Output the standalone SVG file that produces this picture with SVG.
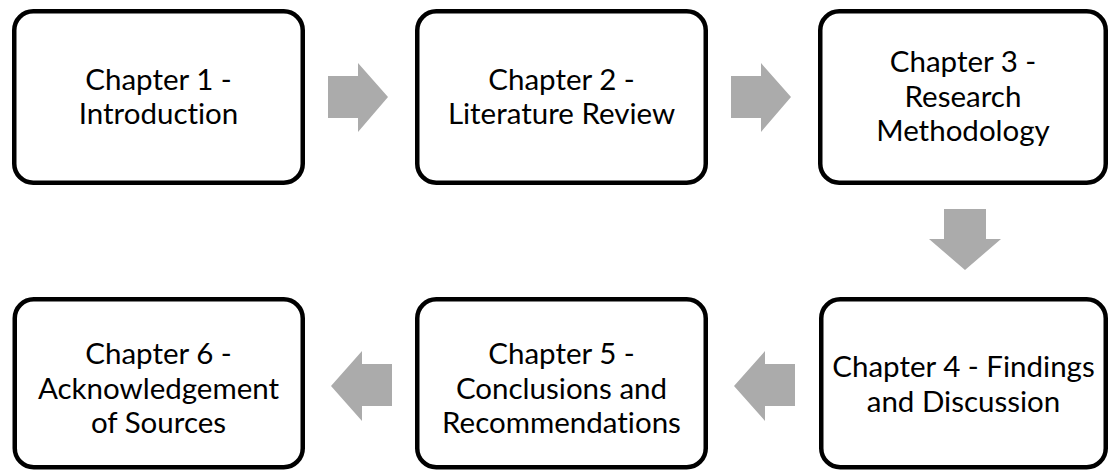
<svg xmlns="http://www.w3.org/2000/svg" width="1109" height="470" viewBox="0 0 1109 470">
  <style>
    .box { fill: #ffffff; stroke: #000000; stroke-width: 4.5; }
    .lbl { font-family: Lato, "Open Sans", sans-serif; font-size: 29.5px; fill: #000000; text-anchor: middle; font-variant-ligatures: none; }
    .arrow { fill: #ababab; stroke: none; }
  </style>
  <rect x="0" y="0" width="1109" height="470" fill="#ffffff"/>
  <g id="connectors">
    <polygon class="arrow" points="328,76 358,76 358,63 388,97 358,132 358,118 328,118"/>
    <polygon class="arrow" points="731,76 761,76 761,63 791,97 761,132 761,118 731,118"/>
    <polygon class="arrow" points="944,209 986,209 986,239 1001,239 965,270 929,239 944,239"/>
    <polygon class="arrow" points="795,364 765,364 765,351 734,386 765,421 765,406 795,406"/>
    <polygon class="arrow" points="392,364 362,364 362,351 331,386 362,421 362,406 392,406"/>
  </g>
  <g id="node1">
    <rect class="box" x="14.25" y="11.25" width="288.5" height="171.5" rx="19"/>
    <text class="lbl"><tspan x="158.5" y="90">Chapter 1 -</tspan><tspan x="158.5" y="124">Introduction</tspan></text>
  </g>
  <g id="node2">
    <rect class="box" x="417.25" y="11.25" width="288.5" height="171.5" rx="19"/>
    <text class="lbl"><tspan x="561.5" y="90">Chapter 2 -</tspan><tspan x="561.5" y="124">Literature Review</tspan></text>
  </g>
  <g id="node3">
    <rect class="box" x="820.25" y="11.25" width="285.5" height="171.5" rx="19"/>
    <text class="lbl"><tspan x="963" y="72">Chapter 3 -</tspan><tspan x="963" y="106.5">Research</tspan><tspan x="963" y="141">Methodology</tspan></text>
  </g>
  <g id="node4">
    <rect class="box" x="821.25" y="299.25" width="284.5" height="168" rx="19"/>
    <text class="lbl"><tspan x="963.5" y="377">Chapter 4 - Findings</tspan><tspan x="963.5" y="411.5">and Discussion</tspan></text>
  </g>
  <g id="node5">
    <rect class="box" x="417.25" y="299.25" width="288.5" height="168" rx="19"/>
    <text class="lbl"><tspan x="561.5" y="364">Chapter 5 -</tspan><tspan x="561.5" y="398.5">Conclusions and</tspan><tspan x="561.5" y="433">Recommendations</tspan></text>
  </g>
  <g id="node6">
    <rect class="box" x="14.75" y="299.25" width="288" height="168" rx="19"/>
    <text class="lbl"><tspan x="158.5" y="364">Chapter 6 -</tspan><tspan x="158.5" y="398.5">Acknowledgement</tspan><tspan x="158.5" y="433">of Sources</tspan></text>
  </g>
</svg>
